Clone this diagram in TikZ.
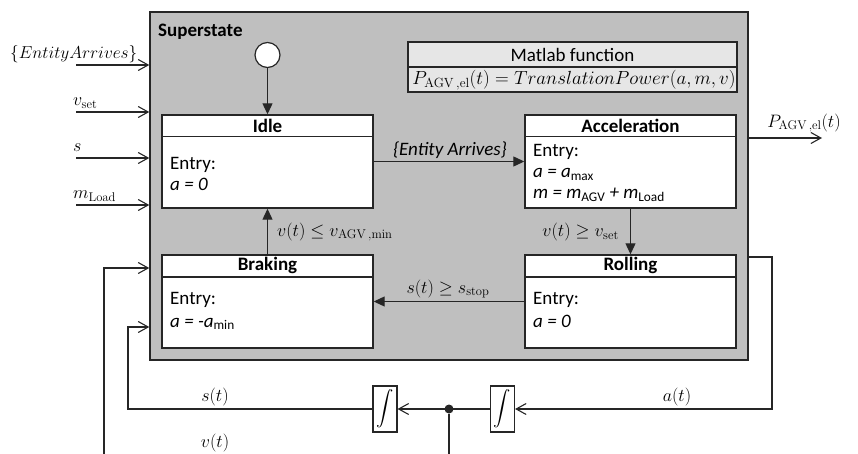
\documentclass[tikz,border=0pt]{standalone}
\usepackage{fix-cm}
\usepackage{amsmath}
\usepackage[no-math]{fontspec}
\setmainfont{Carlito}
\usetikzlibrary{arrows.meta,calc}

\definecolor{ln}{HTML}{262626}
\definecolor{supfill}{HTML}{BFBFBF}
\definecolor{matfill}{HTML}{E6E6E6}

\tikzset{
 statebox/.style={draw=ln, line width=1.4pt, fill=white, minimum width=211pt, minimum height=93pt, inner sep=0pt},
 trans/.style={draw=ln, line width=1.1pt, -{Triangle[length=11pt,width=10pt]}},
 sig/.style={draw=ln, line width=1.1pt, -{Straight Barb[length=10pt,width=11pt]}},
 plain/.style={draw=ln, line width=1.1pt},
 boxtxt/.style={font=\fontsize{19}{23}\selectfont, inner sep=0pt, anchor=base west},
 hdr/.style={font=\fontsize{19}{23}\selectfont\bfseries, inner sep=0pt},
 mlab/.style={font=\fontsize{18}{22}\selectfont, inner sep=0pt},
 intbox/.style={draw=ln, line width=1.1pt, minimum width=24pt, minimum height=46pt, inner sep=0pt, fill=white, font=\fontsize{18}{22}\selectfont},
}

\begin{document}
\begin{tikzpicture}[x=1pt,y=-1pt]
\useasboundingbox (0,0) rectangle (858,454);

% superstate
\node[draw=ln, line width=1.4pt, fill=supfill, minimum width=598pt, minimum height=348pt, inner sep=0pt] (super) at (449,186) {};
\node[hdr, anchor=west] (suplbl) at (158,32) {Superstate};

% matlab function
\node[draw=ln, line width=1.1pt, fill=matfill, minimum width=329pt, minimum height=50pt, inner sep=0pt] (matlab) at (572.5,67) {};
\draw[plain] (matlab.west) -- (matlab.east);
\node[font=\fontsize{19}{23}\selectfont, inner sep=0pt] (mtitle) at (572.5,55) {Matlab function};
\node[font=\fontsize{19}{23}\selectfont, inner sep=0pt] (meq) at (574,80) {$P_{\mathrm{AGV\,,el}}(t) = TranslationPower(a,m,v)$};

% initial state
\node[circle, draw=ln, line width=1.2pt, fill=white, minimum size=25pt, inner sep=0pt] (init) at (267.5,55) {};

% states
\node[statebox] (idle) at (267.5,161.5) {};
\node[statebox] (accel) at (630.5,161.5) {};
\node[statebox] (braking) at (267.5,301.5) {};
\node[statebox] (rolling) at (630.5,301.5) {};
\foreach \s in {idle,accel,braking,rolling}{
  \draw[line width=1.4pt, draw=ln] ($(\s.north west)+(0,22.5)$) -- ($(\s.north east)+(0,22.5)$);
}
\node[hdr] (idleh) at ($(idle.north)+(0,11.5)$) {Idle};
\node[hdr] (accelh) at ($(accel.north)+(0,11.5)$) {Acceleration};
\node[hdr] (brakh) at ($(braking.north)+(0,11.5)$) {Braking};
\node[hdr] (rollh) at ($(rolling.north)+(0,11.5)$) {Rolling};

% entry texts
\node[boxtxt] (ie1) at (170,170) {Entry:};
\node[boxtxt] (ie2) at (170,191) {\itshape a = 0};
\node[boxtxt] (ae1) at (533,157) {Entry:};
\node[boxtxt] (ae2) at (533,178) {\itshape a = a\textsubscript{\upshape max}};
\node[boxtxt] (ae3) at (533,199) {\itshape m = m\textsubscript{\upshape AGV} + m\textsubscript{\upshape Load}};
\node[boxtxt] (be1) at (170,304) {Entry:};
\node[boxtxt] (be2) at (170,327) {\itshape a = -a\textsubscript{\upshape min}};
\node[boxtxt] (re1) at (533,304) {Entry:};
\node[boxtxt] (re2) at (533,327) {\itshape a = 0};

% transitions
\draw[trans] (init.south) -- (init.south |- idle.north);
\draw[trans] (idle) -- (accel);
\draw[trans] (accel) -- (rolling);
\draw[trans] (rolling) -- (braking);
\draw[trans] (braking) -- (idle);

\node[font=\fontsize{19}{23}\selectfont\itshape, inner sep=0pt] (tl1) at (450,150) {\{Entity Arrives\}};
\node[mlab, anchor=east] (tl2) at (619,232) {$v(t) \geq v_{\mathrm{set}}$};
\node[mlab, anchor=west] (tl3) at (277,232) {$v(t) \leq v_{\mathrm{AGV\,,min}}$};
\node[mlab] (tl4) at (448,289) {$s(t) \geq s_{\mathrm{stop}}$};

% inputs
\coordinate (inE) at (76,65);
\coordinate (inV) at (76,112);
\coordinate (inS) at (76,158);
\coordinate (inM) at (76,205);
\foreach \c in {inE,inV,inS,inM}{
  \draw[sig] (\c) -- (\c -| super.west);
}
\node[font=\fontsize{17.3}{21}\selectfont, inner sep=0pt, anchor=base west] (lE) at (10,59) {$\{EntityArrives\}$};
\node[mlab, anchor=base west] (lV) at (73,106) {$v_{\mathrm{set}}$};
\node[mlab, anchor=base west] (lS) at (73,152) {$s$};
\node[mlab, anchor=base west] (lM) at (73,199) {$m_{\mathrm{Load}}$};

% output
\coordinate (outP) at (822,138);
\draw[sig] (outP -| super.east) -- (outP);
\node[mlab] (lP) at (804,123) {$P_{\mathrm{AGV\,,el}}(t)$};

% integrators
\node[intbox] (int1) at (385,409) {$\displaystyle\int$};
\node[intbox] (int2) at (502.5,409) {$\displaystyle\int$};
\node[circle, fill=ln, minimum size=9pt, inner sep=0pt] (dot) at (449,409) {};

\coordinate (aR) at (772,257);
\draw[sig] (aR -| super.east) -- (aR) |- (int2.east);
\draw[sig] (int2.west) -- (int1.east);
\coordinate (sL) at (128,327);
\draw[sig] (int1.west) -| (sL) -- (sL -| super.west);
\coordinate (vB) at (449,454);
\draw[plain] (dot) -- (vB);
\coordinate (vL) at (104,454);
\coordinate (vT) at (104,268);
\draw[sig] (vL) -- (vT) -- (vT -| super.west);

\node[mlab] (ls) at (215,397) {$s(t)$};
\node[mlab] (lv) at (215,443) {$v(t)$};
\node[mlab] (la) at (677,397) {$a(t)$};

\end{tikzpicture}
\end{document}
